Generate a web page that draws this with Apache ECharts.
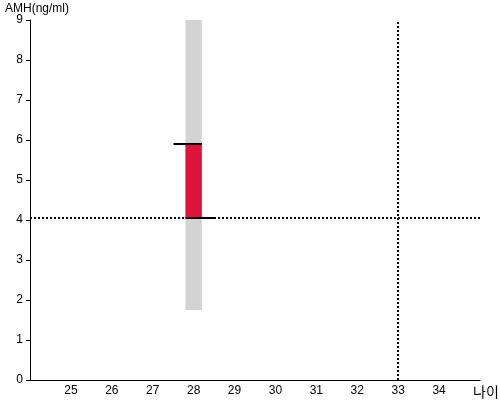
<!DOCTYPE html>
<html><head><meta charset="utf-8">
<script src="https://cdn.jsdelivr.net/npm/echarts@6/dist/echarts.min.js"></script>
<style>html,body{margin:0;padding:0;background:#fff}#c{width:500px;height:400px}</style>
</head><body><div id="c"></div>
<script>
const ages = [28];
const rangeLow = [1.75];
const rangeHigh = [9];
const amhLow = [4.05];
const amhHigh = [5.9];
const refAge = 33;
const refAMH = 4.05;
const yTicks = [0,1,2,3,4,5,6,7,8,9];

const chart = echarts.init(document.getElementById('c'), null, {renderer:'canvas'});
const font = 'Liberation Sans, Arial, sans-serif';
const barData = ages.map((a,i)=>[a, rangeLow[i], rangeHigh[i], amhLow[i], amhHigh[i]]);

chart.setOption({
  animation:false,
  grid:{left:30,right:20,top:20,bottom:20},
  xAxis:{type:'value',min:24,max:35,interval:1,
    axisLine:{lineStyle:{color:'#000',width:1}},
    axisTick:{show:false},splitLine:{show:false},
    axisLabel:{color:'#000',fontFamily:font,fontSize:12,margin:5,showMinLabel:false,showMaxLabel:false}},
  yAxis:{type:'value',min:yTicks[0],max:yTicks[yTicks.length-1],interval:1,
    axisLine:{show:true,lineStyle:{color:'#000',width:1}},
    axisTick:{show:true,length:4,lineStyle:{color:'#000'}},splitLine:{show:false},
    axisLabel:{color:'#000',fontFamily:font,fontSize:12,margin:7}},
  graphic:[
    {type:'text',left:5,top:3,style:{text:'AMH(ng/ml)',font:'12px '+font,fill:'#000'}},
    {type:'text',left:473,top:385,style:{text:'나이',font:'14px "Noto Sans CJK KR"',fill:'#000'}}
  ],
  series:[
    {type:'custom',data:barData,z:2,
      renderItem:function(params,api){
        const x=api.value(0);
        const w=api.size([0.4,0])[0];
        const pLow=api.coord([x,api.value(1)]);
        const pHigh=api.coord([x,api.value(2)]);
        const vLow=api.coord([x,api.value(3)]);
        const vHigh=api.coord([x,api.value(4)]);
        const l=pLow[0]-w/2, r=pLow[0]+w/2;
        return {type:'group',children:[
          {type:'rect',shape:{x:l,y:pHigh[1],width:w,height:pLow[1]-pHigh[1]},style:{fill:'#d3d3d3'}},
          {type:'rect',shape:{x:l,y:vHigh[1],width:w,height:vLow[1]-vHigh[1]},style:{fill:'#dc143c'}},
          {type:'line',shape:{x1:l-12,y1:vHigh[1],x2:r,y2:vHigh[1]},style:{stroke:'#000',lineWidth:2}},
          {type:'line',shape:{x1:l,y1:vLow[1],x2:r+13,y2:vLow[1]},style:{stroke:'#000',lineWidth:2}}
        ]};
      }},
    {type:'line',data:[],z:1,silent:true,
      markLine:{silent:true,symbol:'none',label:{show:false},
        lineStyle:{color:'#000',width:2,type:[2,2]},
        data:[{yAxis:refAMH},{xAxis:refAge}]}}
  ]
});
</script></body></html>
